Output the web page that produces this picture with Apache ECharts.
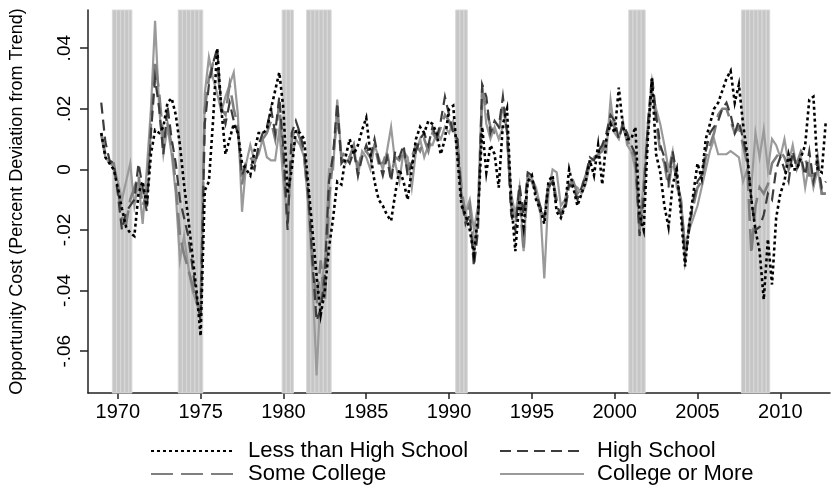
<!DOCTYPE html>
<html><head><meta charset="utf-8">
<script src="https://cdn.jsdelivr.net/npm/echarts@6/dist/echarts.min.js"></script>
<style>html,body{margin:0;padding:0;background:#fff}#c{width:832px;height:491px}</style>
</head><body><div id="c"></div>
<script>
// Quarterly observations, 1969Q1 .. 2012Q4
const startYear = 1969;
const xTicks = [1970,1975,1980,1985,1990,1995,2000,2005,2010];
const yTicks = [-0.06,-0.04,-0.02,0,0.02,0.04];
const recessions = [[1969.67,1970.85],[1973.65,1975.13],[1979.92,1980.6],[1981.4,1982.88],[1990.4,1991.1],[2000.85,2001.84],[2007.65,2009.36]];
const seriesNames = ["Less than High School","High School","Some College","College or More"];

const lessHS = [
 .012,.004,.002,.000, -.006,-.013,-.019,-.021, -.022,-.008,-.004,-.012, .005,.013,.012,.014,
 .022,.0235,.018,.008, -.005,-.016,-.028,-.040, -.055,-.007,-.004,.016, .040,.020,.005,.010,
 .015,.012,.002,.000, -.002,.006,.012,.012, .013,.020,.026,.032, .020,-.008,.000,.013,
 .012,.010,-.005,-.020, -.035,-.048,-.040,-.026, -.016,-.004,-.005,.004, .010,.005,.008,.013,
 .017,.005,-.004,-.010, -.012,-.015,-.017,-.008, .000,-.004,-.010,.000, .010,.014,.012,.016,
 .015,.012,.005,.010, .020,.021,.004,-.012, -.015,-.020,-.028,-.015, .014,-.001,.008,.005,
 -.006,.015,.020,-.010, -.027,-.010,-.019,-.004, -.002,-.010,-.013,-.018, -.004,-.002,-.014,-.016,
 -.012,.000,-.006,-.012, -.008,-.004,.003,-.002, .008,-.005,.010,.015, .012,.027,.014,.010,
 .010,.014,-.015,-.020, .010,.030,.005,-.001, -.012,-.019,-.005,.000, -.015,-.032,-.018,-.008,
 .002,-.003,.010,.015, .020,.022,.026,.030, .0325,.022,.028,.015, .005,-.010,-.020,-.027,
 -.043,-.023,-.038,-.016, -.008,-.004,.005,.000, .000,.004,.008,.023, .024,.000,-.001,.016
];
const highSchool = [
 .022,.009,.003,.002, -.008,-.020,-.014,-.012, -.010,.002,-.006,-.014, .012,.030,.020,.005,
 .021,.010,.002,-.010, -.016,-.022,-.032,-.042, -.050,.015,.028,.035, .040,.020,.015,.022,
 .016,.012,-.002,.002, .002,.000,.008,.012, .014,.020,.012,.024, .006,-.020,.012,.016,
 .012,.006,-.008,-.030, -.050,-.046,-.035,-.004, .005,.022,.002,.004, .002,.006,-.002,.004,
 .008,.004,.010,.003, -.002,.004,-.004,.006, .004,.008,-.002,.002, .006,.010,.012,.008,
 .014,.010,.016,.024, .018,.012,.010,-.010, -.018,-.015,-.032,-.020, .028,.024,.012,.016,
 .014,.024,.012,-.015, -.020,-.005,-.015,-.001, -.002,-.008,-.012,-.016, -.006,-.004,-.012,-.015,
 -.014,-.005,-.006,-.010, -.006,-.002,.004,.003, .006,.008,.012,.018, .016,.010,.015,.012,
 .008,.005,-.022,-.010, .015,.031,.018,.008, .004,-.004,.006,-.002, -.012,-.030,-.020,-.010,
 -.004,-.002,.006,.012, .014,.016,.020,.022, .018,.012,.016,.010, .004,-.010,-.020,-.019,
 -.015,-.008,-.010,.000, .004,.000,-.004,.006, .000,.004,-.002,.006, -.004,.002,-.006,-.004
];
const someCollege = [
 .012,.005,.002,.002, -.006,-.016,-.018,-.010, -.006,-.002,-.012,-.008, .015,.036,.025,.010,
 .015,.008,-.005,-.022, -.028,-.033,-.038,-.044, -.047,.020,.030,.035, .035,.020,.018,.028,
 .020,.014,-.005,.003, .004,.002,.006,.010, .012,.016,.010,.022, .002,-.018,.010,.014,
 .010,.004,-.010,-.028, -.045,-.030,-.044,-.010, .004,.018,.004,.006, .004,.008,.000,.006,
 .006,.004,.008,.002, .002,.006,-.002,.004, .003,.006,.000,.004, .008,.006,.010,.006,
 .012,.010,.014,.018, .016,.012,.010,-.006, -.016,-.012,-.028,-.015, .026,.020,.014,.012,
 .012,.022,.012,-.012, -.018,-.008,-.027,-.003, -.004,-.008,-.014,-.015, -.005,-.003,-.010,-.014,
 -.012,-.006,-.004,-.008, -.006,-.002,.002,.004, .005,.006,.010,.016, .014,.012,.014,.010,
 .006,.004,-.020,-.006, .014,.028,.016,.006, .002,-.006,.004,-.004, -.010,-.028,-.018,-.012,
 -.006,-.004,.004,.008, .012,.018,.020,.020, .016,.012,.014,.008, .002,-.028,-.012,-.006,
 -.008,-.005,.002,.004, .006,.004,.000,.004, .002,.006,.004,-.002, -.002,.004,-.008,-.008
];
const collegeMore = [
 .011,.004,.002,.001, -.004,-.010,-.004,.002, -.012,-.004,-.018,.000, .020,.049,.020,.005,
 .014,.005,-.008,-.030, -.022,-.032,-.040,-.044, -.045,.025,.037,.030, .025,.019,.024,.028,
 .032,.018,-.014,.002, .008,.003,.005,.010, .004,.003,.003,.013, -.004,-.017,.004,.010,
 .008,.004,-.012,-.035, -.068,-.040,-.030,.000, .000,.023,.004,.002, .004,.008,-.002,.006,
 .004,.000,.008,.004, .000,.006,.014,.002, -.004,.006,.004,-.006, .006,.010,.004,.008,
 .008,.012,.010,.014, .012,.016,.006,-.008, -.014,-.010,-.020,-.012, .028,.015,.010,.014,
 .010,.014,.014,-.008, -.015,-.006,-.027,-.002, -.003,-.006,-.012,-.036, -.008,.000,-.001,-.012,
 -.010,-.004,-.005,-.006, -.008,-.005,.002,.004, .004,.008,.006,.023, .012,.010,.016,.008,
 .006,.000,-.021,-.004, .012,.026,.020,.015, .008,.000,.006,-.006, -.010,-.025,-.020,-.016,
 -.012,-.006,.000,.006, .010,.005,.005,.005, .006,.005,.004,-.004, .000,-.006,.012,.004,
 .013,.000,.010,.008, .004,.010,.002,.008, .000,.004,-.006,.002, -.006,.000,-.008,-.008
];

function pairs(arr){ return arr.map((v,i)=>[startYear + i/4, v]); }
const chart = echarts.init(document.getElementById('c'), null, {renderer:'canvas'});
const FONT = 'Liberation Sans';
const styles = [
  {color:'#000000', width:2.6, type:[3,3]},
  {color:'#3c3c3c', width:2.2, type:[11,6]},
  {color:'#7f7f7f', width:2.6, type:[22,8]},
  {color:'#9a9a9a', width:2.2, type:'solid'}
];
const dataSets = [lessHS, highSchool, someCollege, collegeMore];

// recession shading split into quarterly slices (striped look)
const areaData = [];
recessions.forEach(r=>{
  for (let t=r[0]; t<r[1]-1e-6; t+=0.25) {
    areaData.push([{xAxis:t},{xAxis:Math.min(t+0.25, r[1])}]);
  }
});
const series = [{
  type:'line', data:[], silent:true, z:1,
  markArea:{silent:true, itemStyle:{color:'#c6c6c6', borderColor:'#d9d9d9', borderWidth:1},
    data: areaData}
}];
const zOrder = [9,8,7,6];
dataSets.forEach((d,k)=>{
  series.push({name:seriesNames[k], type:'line', data:pairs(d), symbol:'none', showSymbol:false, z:zOrder[k],
    lineStyle:{color:styles[k].color, width:styles[k].width, type:styles[k].type, cap:'butt', join:'miter'},
    itemStyle:{color:styles[k].color}});
});

const legendPos = [[150,440],[499,440],[150,463],[499,463]];
const legends = seriesNames.map((n,k)=>({
  data:[n], left:legendPos[k][0], top:legendPos[k][1], itemWidth:84, itemHeight:14,
  selectedMode:false, padding:0, itemStyle:{opacity:0},
  textStyle:{fontFamily:FONT, fontSize:22, color:'#000', padding:[0,0,0,8]}
}));

chart.setOption({
  animation:false,
  backgroundColor:'#ffffff',
  grid:{left:80, right:2, top:10, bottom:98},
  legend: legends,
  xAxis:{type:'value', min:1968.2, max:2013.0,
    axisLine:{show:true, onZero:false, lineStyle:{color:'#222', width:1.5}},
    axisTick:{show:true, length:6, customValues:xTicks, lineStyle:{color:'#222', width:1.5}},
    axisLabel:{customValues:xTicks, margin:9, fontFamily:FONT, fontSize:20, color:'#000', formatter:v=>String(v)},
    splitLine:{show:false}},
  yAxis:{type:'value', min:-0.0738, max:0.0526,
    name:'Opportunity Cost (Percent Deviation from Trend)', nameLocation:'middle', nameGap:62,
    nameTextStyle:{fontFamily:FONT, fontSize:18, color:'#000'},
    axisLine:{show:true, onZero:false, lineStyle:{color:'#222', width:1.5}},
    axisTick:{show:true, length:8, customValues:yTicks, lineStyle:{color:'#222', width:1.5}},
    axisLabel:{customValues:yTicks, rotate:90, margin:14, fontFamily:FONT, fontSize:19, color:'#000',
      formatter:v=>{ if (Math.abs(v)<1e-9) return '0'; let s=(+v.toFixed(2)).toString(); return s.replace('0.','.'); }},
    splitLine:{show:false}},
  series: series
});
</script></body></html>
